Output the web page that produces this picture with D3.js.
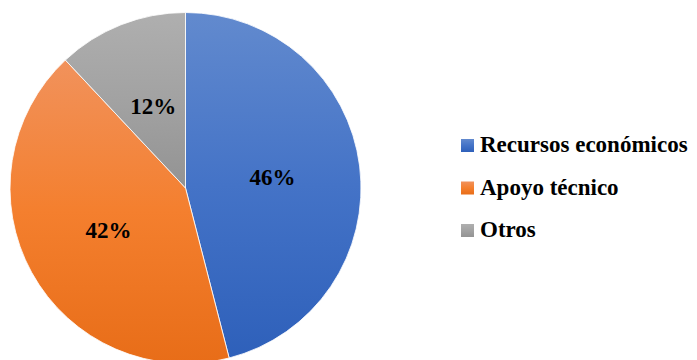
<!DOCTYPE html>
<html>
<head>
<meta charset="utf-8">
<script src="https://cdn.jsdelivr.net/npm/d3@7"></script>
<style>
  html, body { margin: 0; padding: 0; background: #fff; }
  svg { display: block; }
</style>
</head>
<body>
<svg id="chart" width="697" height="360"></svg>
<script>
// Chart data
const categories = ["Recursos económicos", "Apoyo técnico", "Otros"];
const values = [46, 42, 12];
const labels = ["46%", "42%", "12%"];
// Top / middle / bottom colours of each slice's vertical shading
const topColors = ["#628ace", "#f1925c", "#afafaf"];
const midColors = ["#4473c7", "#f47f2e", "#a2a2a2"];
const bottomColors = ["#2e60ba", "#e86d18", "#939393"];

const FONT = "Liberation Serif, DejaVu Serif";

const svg = d3.select("#chart");
const cx = 185.5, cy = 188, R = 175.5;

const defs = svg.append("defs");
categories.forEach((c, i) => {
  const g = defs.append("linearGradient")
    .attr("id", "shade" + i)
    .attr("x1", 0).attr("x2", 0).attr("y1", 0).attr("y2", 1);
  g.append("stop").attr("offset", "0%").attr("stop-color", topColors[i]);
  g.append("stop").attr("offset", "50%").attr("stop-color", midColors[i]);
  g.append("stop").attr("offset", "100%").attr("stop-color", bottomColors[i]);
});

const pie = d3.pie().sort(null).value(d => d);
const arcs = pie(values);
const arc = d3.arc().innerRadius(0).outerRadius(R);

const g = svg.append("g").attr("transform", `translate(${cx},${cy})`);

g.selectAll("path.slice")
  .data(arcs)
  .join("path")
  .attr("class", "slice")
  .attr("d", arc)
  .attr("fill", (d, i) => `url(#shade${i})`)
  .attr("stroke", "rgba(255,255,255,0.8)")
  .attr("stroke-width", 1);

g.selectAll("text.pct")
  .data(arcs)
  .join("text")
  .attr("class", "pct")
  .attr("transform", d => {
    const [x, y] = arc.centroid(d);
    return `translate(${x},${y})`;
  })
  .attr("text-anchor", "middle")
  .attr("dy", "0.35em")
  .attr("font-family", FONT)
  .attr("font-weight", 700)
  .attr("font-size", 23)
  .attr("fill", "#000")
  .text((d, i) => labels[i]);

// Legend
const legend = svg.append("g").attr("transform", "translate(461,152)");
const rowGap = 42.5;
const item = legend.selectAll("g.item")
  .data(categories)
  .join("g")
  .attr("class", "item")
  .attr("transform", (d, i) => `translate(0,${i * rowGap})`);

item.append("rect")
  .attr("x", 0).attr("y", -13)
  .attr("width", 13).attr("height", 13)
  .attr("fill", (d, i) => `url(#shade${i})`);

item.append("text")
  .attr("x", 19).attr("y", 0)
  .attr("font-family", FONT)
  .attr("font-weight", 700)
  .attr("font-size", 23)
  .attr("fill", "#000")
  .text(d => d);
</script>
</body>
</html>
